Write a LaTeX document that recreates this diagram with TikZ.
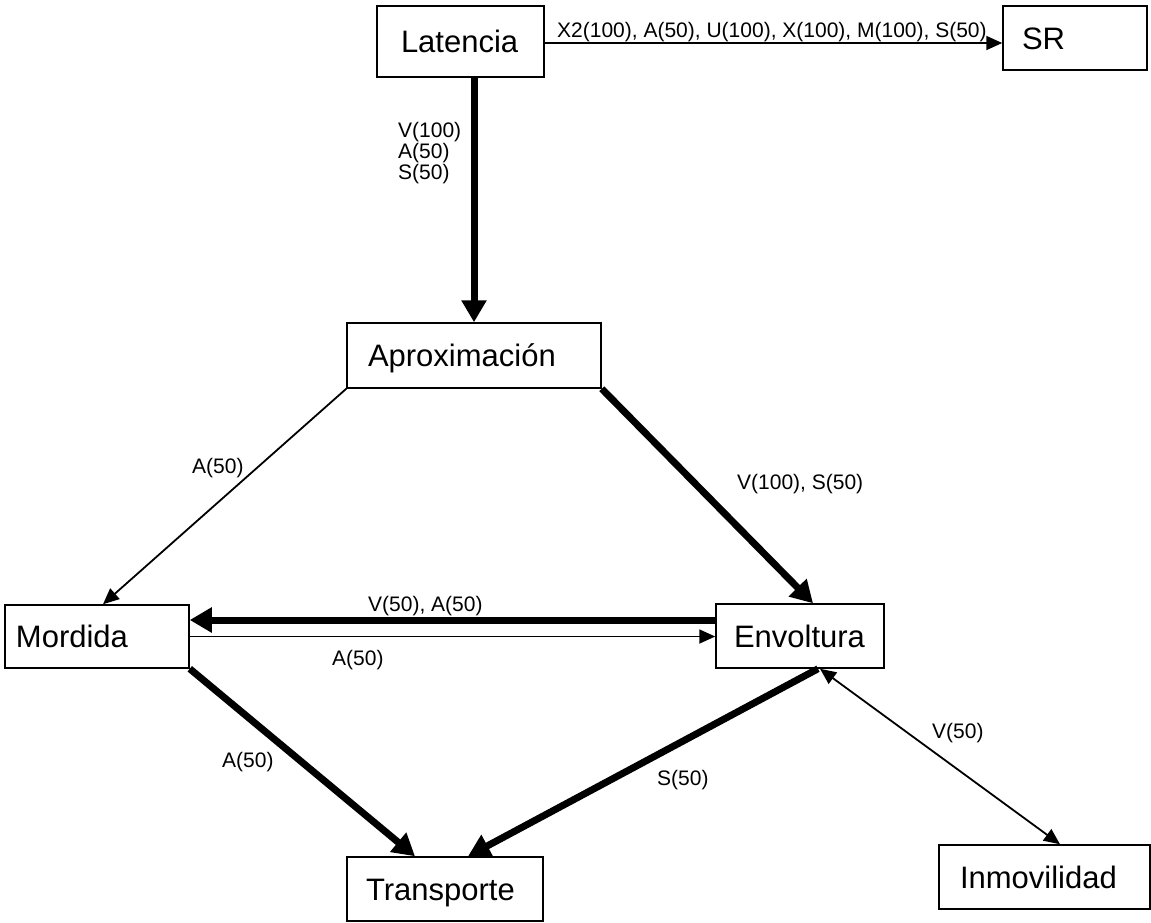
\documentclass[tikz,border=0pt]{standalone}
\usepackage{fontspec}
\setmainfont{Liberation Sans}
\usetikzlibrary{arrows.meta}
\begin{document}
\begin{tikzpicture}[x=1pt,y=-1pt,
 box/.style={draw, line width=1.5pt, inner ysep=0pt, align=left,
   font=\fontsize{31}{37}\selectfont, text height=22pt, text depth=0pt},
 lbl/.style={font=\fontsize{21}{21}\selectfont, inner sep=0pt, anchor=base west},
 thinarrow/.style={line width=1.8pt, -{Triangle[length=16pt,width=14pt]}},
 thickarrow/.style={line width=7pt, -{Triangle[length=22pt,width=24pt]}}]
\useasboundingbox (0,0) rectangle (1151,922);

\node[box, inner xsep=24pt, text width=119pt, minimum height=71pt] (lat) at (460.5,41.5) {Latencia};
\node[box, inner xsep=19pt, text width=106pt, minimum height=64pt] (sr) at (1075,38) {SR};
\node[box, inner xsep=21pt, text width=212pt, minimum height=65pt] (apr) at (474,355.5) {Aproximación};
\node[box, inner xsep=11pt, text width=162pt, minimum height=63pt] (mor) at (97,636.5) {Mordida};
\node[box, inner xsep=18pt, text width=132pt, minimum height=64pt] (env) at (800,636) {Envoltura};
\node[box, inner xsep=21pt, text width=169pt, minimum height=64pt] (inm) at (1044.5,877) {Inmovilidad};
\node[box, inner xsep=19pt, text width=158pt, minimum height=64pt] (tra) at (445,889) {Transporte};

\draw[thinarrow] ([yshift=-1.5pt]lat.east) -- ([yshift=-1.5pt]lat.east -| sr.west);
\draw[thickarrow] (lat.south -| apr.north) -- (apr.north);
\draw[thinarrow] (apr.south west) -- ([xshift=6pt]mor.north);
\draw[thickarrow] (apr.south east) -- ([xshift=13pt]env.north);
\draw[thickarrow] ([yshift=16pt]env.west) -- ([yshift=16pt]env.west -| mor.east);
\draw[thinarrow] (mor.east) -- (mor.east -| env.west);
\draw[thickarrow] (mor.south east) -- ([xshift=-30pt]tra.north);
\draw[thickarrow] ([xshift=18pt]env.south) -- ([xshift=23pt]tra.north);
\draw[line width=1.8pt, {Triangle[length=16pt,width=14pt]}-{Triangle[length=16pt,width=14pt]}] ([xshift=20pt]env.south) -- ([xshift=15.5pt]inm.north);

\node[lbl] (l1) at (557,37) {X2(100), A(50), U(100), X(100), M(100), S(50)};
\node[lbl, align=left, anchor=north west] (l2) at (398,122) {V(100)\\A(50)\\S(50)};
\node[lbl] (l3) at (192,473) {A(50)};
\node[lbl] (l4) at (737,489) {V(100), S(50)};
\node[lbl] (l5) at (368,611) {V(50), A(50)};
\node[lbl] (l6) at (332,665) {A(50)};
\node[lbl] (l7) at (222,767) {A(50)};
\node[lbl] (l8) at (657,785) {S(50)};
\node[lbl] (l9) at (932,738) {V(50)};
\end{tikzpicture}
\end{document}
